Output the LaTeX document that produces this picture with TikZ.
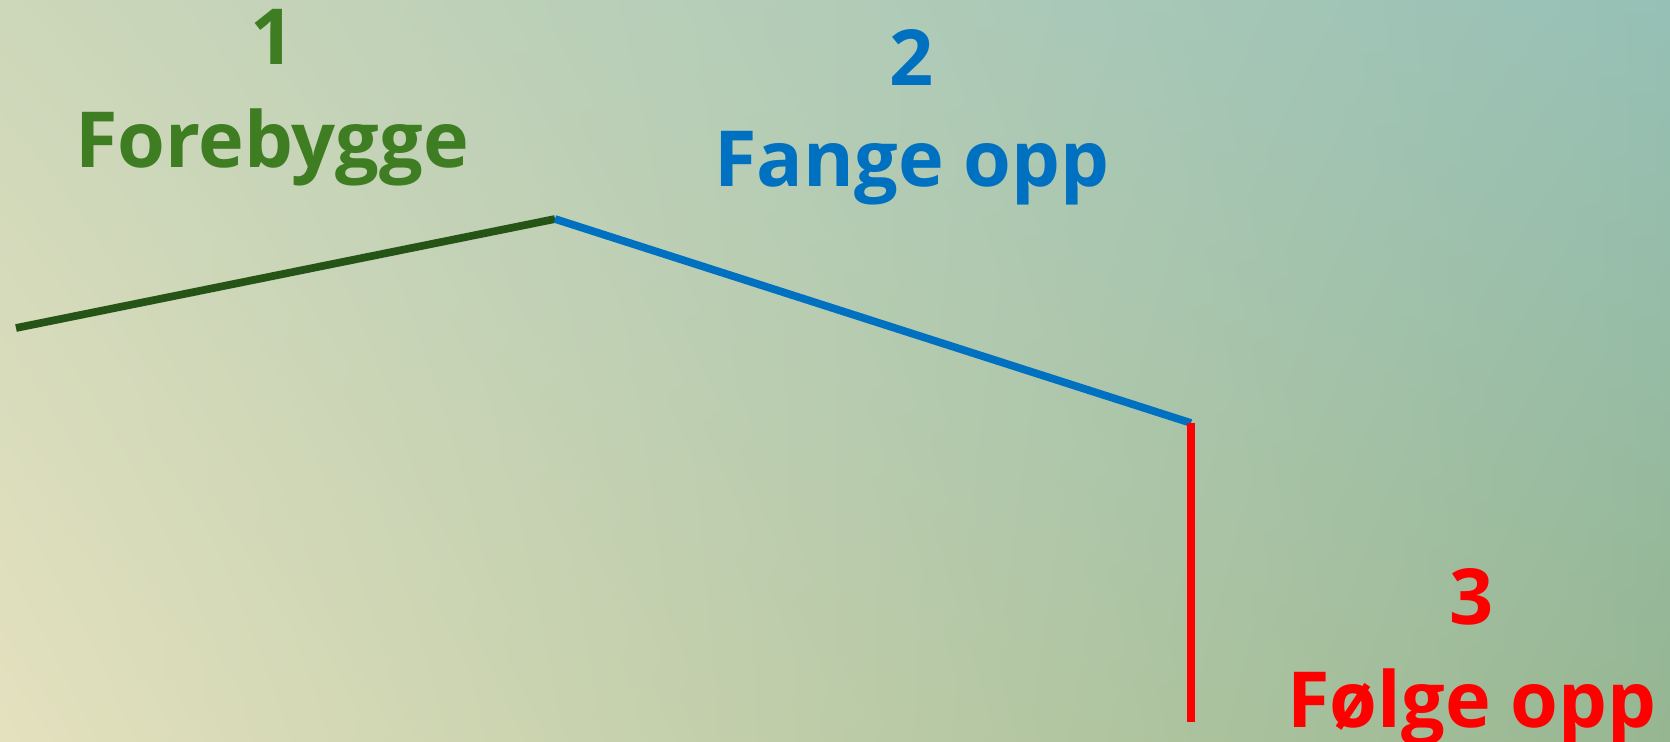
\documentclass[tikz,border=0pt]{standalone}
\usepackage{fontspec}
\setmainfont{Open Sans}
\usetikzlibrary{positioning, shadings}
\definecolor{mygreen}{RGB}{63,125,34}
\definecolor{mydarkgreen}{RGB}{38,84,23}
\definecolor{myblue}{RGB}{0,112,192}
\definecolor{myred}{RGB}{255,0,0}
\definecolor{bgul}{RGB}{205,215,185}
\definecolor{bgur}{RGB}{150,192,182}
\definecolor{bgll}{RGB}{228,225,190}
\definecolor{bglr}{RGB}{150,182,145}
\tikzset{
  lbl/.style={font=\fontsize{22}{26}\selectfont\bfseries, anchor=base, inner sep=0pt},
  stage/.style={line width=2.2pt}
}
\begin{document}
\begin{tikzpicture}
            \useasboundingbox (0,0) rectangle (16.70,-7.41);
            \shade[upper left=bgul, upper right=bgur, lower left=bgll, lower right=bglr]
                (0,0) rectangle (16.70,-7.41);
            % the three stages
            \coordinate (start) at (0.16,-3.28);
            \coordinate (peak) at (5.55,-2.19);
            \coordinate (knee) at (11.91,-4.23);
            \coordinate (end) at (11.91,-7.22);
            \draw[stage, mydarkgreen] (start) -- (peak);
            \draw[stage, myblue] (peak) -- (knee);
            \draw[stage, myred] (knee) -- (end);
            % labels
            \node[lbl, mygreen] (num1) at (2.73,-0.64) {1};
            \node[lbl, mygreen] (forebygge) at (2.72,-1.67) {Forebygge};
            \node[lbl, myblue] (num2) at (9.12,-0.85) {2};
            \node[lbl, myblue] (fange) at (9.12,-1.86) {Fange opp};
            \node[lbl, myred] (num3) at (14.72,-6.24) {3};
            \node[lbl, myred] (folge) at (14.72,-7.27) {Følge opp};
        \end{tikzpicture}
\end{document}
